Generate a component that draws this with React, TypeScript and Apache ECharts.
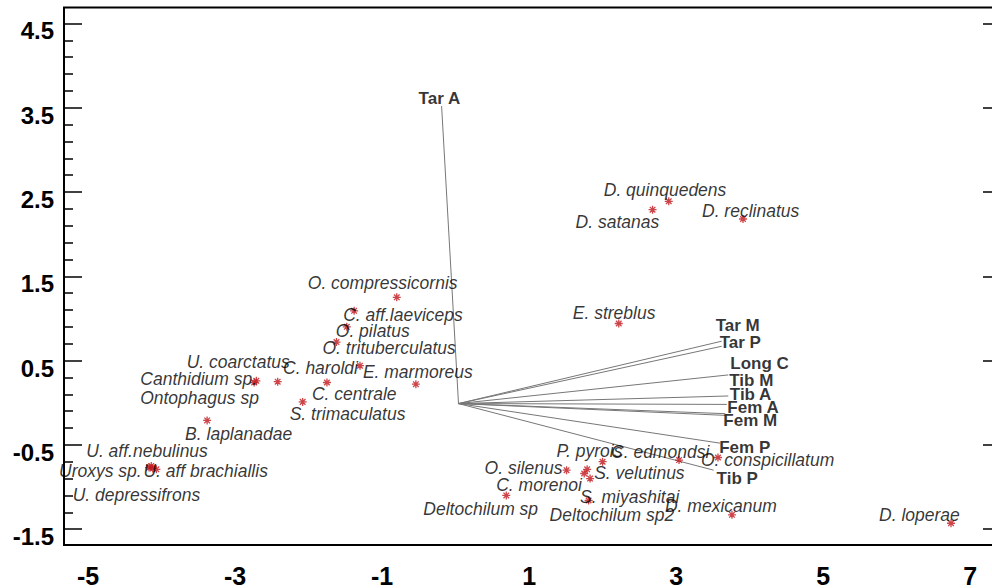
import React, { useEffect, useRef } from "react";
import * as echarts from "echarts";

// Species scores (axis 1, axis 2)
const speciesNames = [
  "O. compressicornis", "C. aff.laeviceps", "O. pilatus", "O. trituberculatus",
  "C. haroldi", "E. marmoreus", "C. centrale", "S. trimaculatus",
  "U. coarctatus", "Canthidium sp.", "Ontophagus sp", "B. laplanadae",
  "U. aff.nebulinus", "Uroxys sp.", "U. aff brachiallis", "U. depressifrons",
  "D. quinquedens", "D. satanas", "D. reclinatus", "E. streblus",
  "P. pyrois", "C. edmondsi", "O. silenus", "S. velutinus",
  "C. morenoi", "S. miyashitai", "Deltochilum sp2", "Deltochilum sp",
  "O. conspicillatum", "D. mexicanum", "D. loperae",
];
const speciesX = [
  -0.80, -1.38, -1.48, -1.62,
  -1.30, -0.54, -1.75, -2.08,
  -2.42, -2.71, -2.74, -3.38,
  -4.14, -4.17, -4.07, -4.12,
  2.90, 2.68, 3.91, 2.22,
  2.00, 3.04, 1.51, 1.79,
  1.75, 1.83, 1.81, 0.69,
  3.57, 3.76, 6.74,
];
const speciesY = [
  1.25, 1.09, 0.90, 0.72,
  0.44, 0.22, 0.24, 0.01,
  0.25, 0.26, 0.24, -0.21,
  -0.75, -0.77, -0.79, -0.78,
  2.39, 2.29, 2.18, 0.94,
  -0.70, -0.68, -0.80, -0.79,
  -0.84, -0.90, -1.16, -1.10,
  -0.65, -1.33, -1.43,
];

// Morphometric variable loadings (vector tips)
const variableNames = ["Tar A", "Tar M", "Tar P", "Long C", "Tib M", "Tib A", "Fem A", "Fem M", "Fem P", "Tib P"];
const variableX = [-0.19, 3.62, 3.62, 3.71, 3.71, 3.69, 3.67, 3.67, 3.60, 3.51];
const variableY = [3.52, 0.73, 0.67, 0.33, 0.08, -0.02, -0.13, -0.15, -0.48, -0.80];
const vectorOrigin = [0.04, -0.01];

// Axis ticks
const xTickLabels = [-5, -3, -1, 1, 3, 5, 7];
const yTickLabels = [-1.5, -0.5, 0.5, 1.5, 2.5, 3.5, 4.5];
const yMinorTicks = [
  -1.3, -1.1, -0.9, -0.7, -0.3, -0.1, 0.1, 0.3, 0.7, 0.9, 1.1, 1.3,
  1.7, 1.9, 2.1, 2.3, 2.7, 2.9, 3.1, 3.3, 3.7, 3.9, 4.1, 4.3,
];

// Label placement: [left edge dx, vertical centre dy] in pixels from the point
const speciesLabelShift: Record<string, [number, number]> = {
  "O. compressicornis": [-89, -14],
  "C. aff.laeviceps": [-11, 4],
  "O. pilatus": [-11, 4],
  "O. trituberculatus": [-14, 6],
  "C. haroldi": [-77, 2],
  "E. marmoreus": [-53, -12],
  "C. centrale": [-15, 12],
  "S. trimaculatus": [-13, 12],
  "U. coarctatus": [-91, -20],
  "Canthidium sp.": [-116, -2],
  "Ontophagus sp": [-114, 16],
  "B. laplanadae": [-22, 14],
  "U. aff.nebulinus": [-65, -15],
  "Uroxys sp.": [-90, 3],
  "U. aff brachiallis": [-13, 2],
  "U. depressifrons": [-80, 27],
  "D. quinquedens": [-65, -11],
  "D. satanas": [-77, 12],
  "D. reclinatus": [-41, -8],
  "E. streblus": [-46, -10],
  "P. pyrois": [-46, -11],
  "C. edmondsi": [-68, -8],
  "O. silenus": [-82, -2],
  "S. velutinus": [7, 4],
  "C. morenoi": [-88, 11],
  "S. miyashitai": [-10, 18],
  "Deltochilum sp2": [-39, 15],
  "Deltochilum sp": [-83, 14],
  "O. conspicillatum": [-17, 2],
  "D. mexicanum": [-67, -9],
  "D. loperae": [-72, -8],
};
const variableLabelShift: Record<string, [number, number]> = {
  "Tar A": [-23, -8],
  "Tar M": [-6, -16],
  "Tar P": [-2, -4],
  "Long C": [2, -11],
  "Tib M": [1, -15],
  "Tib A": [3, -10],
  "Fem A": [2, -6],
  "Fem M": [-2, 5],
  "Fem P": [-1, 4],
  "Tib P": [3, 8],
};

const FONT = "'Liberation Sans', Arial, Helvetica, sans-serif";
const Y_MIN = -1.688;
const Y_MAX = 4.689;
const X_MIN = -5.327;
const X_MAX = 7.42;

const ASTERISK = "path://M5,0L5,10M0,5L10,5M1.5,1.5L8.5,8.5M1.5,8.5L8.5,1.5";

function tickAxis(position: "left" | "right", values: number[], length: number, withLabels: boolean) {
  return {
    type: "value",
    position,
    min: Y_MIN,
    max: Y_MAX,
    offset: 0,
    axisLine: { show: false, onZero: false },
    splitLine: { show: false },
    axisTick: {
      show: true,
      inside: true,
      length,
      customValues: values,
      lineStyle: { color: "#000", width: 1.5 },
    },
    axisLabel: withLabels
      ? {
          show: true,
          customValues: values,
          color: "#000",
          fontFamily: FONT,
          fontWeight: "bold",
          fontSize: 24,
          margin: 10,
          verticalAlign: "top",
          lineHeight: 15,
        }
      : { show: false },
  };
}

export default function App() {
  const ref = useRef<HTMLDivElement>(null);

  useEffect(() => {
    if (!ref.current) return;
    const chart = echarts.init(ref.current, null, { renderer: "svg" });

    const speciesData = speciesNames.map((name, i) => {
      const [dx, dy] = speciesLabelShift[name] || [4, 0];
      return {
        name,
        value: [speciesX[i], speciesY[i]],
        label: { offset: [dx, dy] },
      };
    });

    const vectorData = variableNames.map((name, i) => ({
      name,
      coords: [vectorOrigin, [variableX[i], variableY[i]]],
    }));

    const vectorTips = variableNames.map((name, i) => {
      const [dx, dy] = variableLabelShift[name] || [4, 0];
      return {
        name,
        value: [variableX[i], variableY[i]],
        label: { offset: [dx, dy] },
      };
    });

    chart.setOption({
      animation: false,
      backgroundColor: "#fff",
      // the frame's right edge lies just beyond the visible page
      grid: {
        left: 64,
        top: 7.5,
        right: 9,
        bottom: 41,
        show: true,
        borderColor: "#000",
        borderWidth: 2,
        backgroundColor: "transparent",
      },
      xAxis: {
        type: "value",
        min: X_MIN,
        max: X_MAX,
        axisLine: { show: false, onZero: false },
        axisTick: { show: false },
        splitLine: { show: false },
        axisLabel: {
          customValues: xTickLabels,
          color: "#000",
          fontFamily: FONT,
          fontWeight: "bold",
          fontSize: 25,
          margin: 18,
        },
      },
      yAxis: [
        tickAxis("left", yTickLabels, 18, true),
        tickAxis("left", yMinorTicks, 9, false),
        tickAxis("right", yTickLabels, 18, false),
        tickAxis("right", yMinorTicks, 9, false),
      ],
      series: [
        {
          type: "lines",
          coordinateSystem: "cartesian2d",
          silent: true,
          z: 1,
          lineStyle: { color: "#777", width: 1, opacity: 1 },
          data: vectorData,
        },
        {
          type: "scatter",
          silent: true,
          z: 3,
          symbol: ASTERISK,
          symbolSize: 8,
          itemStyle: { color: "transparent", borderColor: "#c0161c", borderWidth: 1.3 },
          label: {
            show: true,
            position: "inside",
            align: "left",
            verticalAlign: "middle",
            formatter: "{b}",
            color: "#000",
            fontFamily: FONT,
            fontStyle: "italic",
            fontSize: 17.5,
            textBorderWidth: 0,
          },
          data: speciesData,
        },
        {
          type: "scatter",
          silent: true,
          z: 4,
          symbolSize: 0,
          label: {
            show: true,
            position: "inside",
            align: "left",
            verticalAlign: "middle",
            formatter: "{b}",
            color: "#000",
            fontFamily: FONT,
            fontWeight: "bold",
            fontSize: 17,
            textBorderWidth: 0,
          },
          data: vectorTips,
        },
      ],
    });

    return () => chart.dispose();
  }, []);

  return (
    <div
      ref={ref}
      style={{ position: "fixed", left: 0, top: 0, width: 1010, height: 588, background: "#fff" }}
    />
  );
}
